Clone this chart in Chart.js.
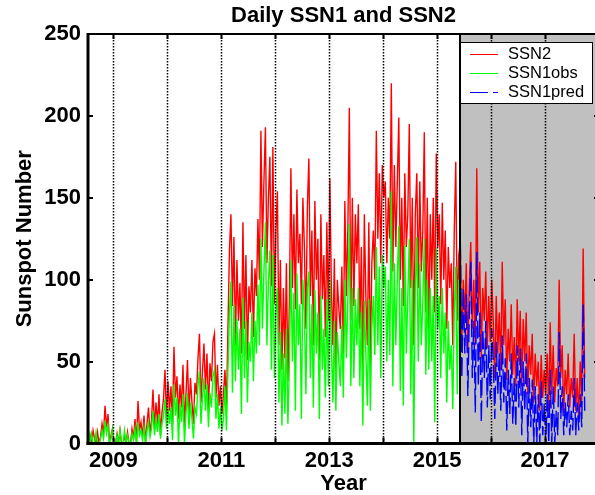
<!DOCTYPE html>
<html>
<head>
<meta charset="utf-8">
<script src="https://cdn.jsdelivr.net/npm/chart.js@4.4.1/dist/chart.umd.min.js"></script>
<style>
  html, body { margin: 0; padding: 0; background: #fff; overflow: hidden; }
  #marco { width: 595px; height: 495px; overflow: hidden; }
</style>
</head>
<body>
<div id="marco"><canvas id="grafico" width="610" height="495" style="width:610px;height:495px"></canvas></div>
<script>
// ============================================================================
// Daily SSN1 and SSN2 — series, una muestra cada ~10 días
// ============================================================================

const TITULO = "Daily SSN1 and SSN2";
const INICIO = 2008.54;        // año de la primera muestra
const PASO = 1 / 36;           // separación entre muestras (años)
const INICIO_PRED = 2015.43;   // comienza SSN1pred
const INICIO_GRIS = 2015.43;   // comienza la zona sombreada
const X_MIN = 2008.53;
const X_MAX = 2018;

const ANIOS_GRILLA = [2009, 2010, 2011, 2012, 2013, 2014, 2015, 2016, 2017];
const ANIOS_ETIQUETA = [2009, 2011, 2013, 2015, 2017];
const MARCAS_Y = [0, 50, 100, 150, 200, 250];

// SSN2 (una fila = medio año)
const ssn2 = [
  0, 5, 0, 8, 3, 0, 7, 0, 4, 12, 6, 23, 10, 18, 0, 5, 9, 0,
  0, 6, 0, 8, 0, 0, 5, 0, 7, 0, 0, 9, 3, 15, 0, 26, 8, 13,
  4, 17, 0, 12, 22, 6, 14, 33, 9, 25, 12, 30, 5, 19, 27, 45, 16, 38,
  20, 35, 12, 59, 28, 41, 15, 36, 22, 48, 10, 30, 51, 18, 40, 25, 12, 37,
  30, 52, 67, 25, 44, 61, 33, 55, 20, 49, 38, 62, 67, 28, 48, 23, 35, 18,
  30, 45, 22, 70, 118, 140, 84, 126, 60, 112, 75, 98, 55, 135, 70, 115, 51, 96,
  80, 112, 65, 107, 90, 137, 100, 191, 120, 160, 193, 110, 150, 175, 96, 181, 85, 130,
  154, 60, 112, 45, 95, 52, 110, 38, 88, 168, 95, 140, 82, 155, 110, 128, 85, 150,
  120, 70, 145, 174, 90, 130, 60, 148, 100, 125, 51, 140, 88, 115, 65, 135, 75, 162,
  95, 60, 113, 45, 100, 82, 70, 108, 55, 148, 90, 131, 205, 75, 150, 84, 140, 110,
  146, 70, 120, 43, 140, 90, 60, 135, 48, 110, 130, 100, 191, 125, 165, 110, 170, 150,
  160, 110, 150, 125, 220, 105, 170, 120, 160, 199, 100, 150, 84, 165, 120, 140, 195, 95,
  150, 60, 140, 165, 95, 160, 105, 130, 190, 80, 150, 66, 140, 100, 150, 80, 177, 120,
  140, 85, 147, 100, 130, 70, 120, 95, 110, 60, 130, 172, 75, 115, 123, 60, 100, 75,
  110, 55, 95, 123, 70, 100, 60, 168, 80, 111, 52, 95, 75, 105, 58, 90, 62, 100,
  75, 40, 90, 55, 80, 45, 111, 60, 88, 39, 70, 50, 85, 42, 65, 35, 88, 50,
  81, 35, 76, 50, 80, 30, 60, 42, 67, 25, 55, 35, 50, 20, 54, 28, 45, 30,
  55, 20, 74, 30, 60, 25, 46, 35, 100, 40, 60, 19, 45, 30, 55, 22, 40, 28,
  67, 20, 40, 15, 50, 25, 119, 40
];

// SSN1 observado
const ssn1obs = [
  8, 0, 6, 0, 0, 7, 0, 0, 3, 8, 3, 14, 6, 11, 0, 3, 9, 0,
  0, 5, 0, 8, 0, 0, 8, 0, 5, 0, 0, 6, 2, 9, 0, 13, 5, 8,
  2, 10, 0, 8, 13, 4, 9, 20, 5, 15, 7, 18, 3, 12, 17, 27, 9, 22,
  12, 22, 2, 36, 17, 28, 0, 24, 13, 30, 0, 18, 31, 9, 25, 15, 3, 22,
  18, 35, 44, 12, 28, 40, 20, 36, 10, 31, 22, 41, 45, 15, 30, 9, 22, 8,
  15, 35, 8, 45, 80, 99, 31, 85, 38, 76, 45, 70, 18, 89, 40, 75, 25, 62,
  50, 80, 38, 75, 55, 97, 60, 125, 70, 105, 135, 60, 98, 118, 45, 115, 40, 80,
  95, 25, 68, 11, 55, 18, 70, 12, 48, 112, 50, 92, 20, 104, 60, 85, 15, 100,
  80, 30, 95, 105, 40, 85, 22, 94, 55, 80, 15, 90, 45, 70, 28, 88, 35, 100,
  60, 25, 75, 20, 68, 50, 35, 72, 28, 100, 52, 88, 134, 35, 95, 40, 88, 60,
  95, 35, 80, 11, 87, 55, 23, 88, 20, 70, 90, 54, 120, 60, 108, 40, 115, 95,
  108, 50, 100, 54, 154, 35, 110, 60, 100, 133, 32, 95, 23, 121, 55, 90, 125, 30,
  100, 0, 95, 126, 50, 110, 60, 85, 125, 42, 100, 45, 95, 50, 90, 13, 119, 70,
  90, 40, 95, 55, 80, 25, 75, 45, 60, 21, 80, 108, 30, 100
];

// SSN1 predicho (zona gris)
const ssn1pred = [
  123, 40, 95, 55,
  91, 29, 80, 111, 40, 75, 19, 117, 35, 80, 13, 70, 40, 75, 22, 60, 27, 70,
  50, 15, 62, 30, 55, 20, 66, 25, 52, 8, 45, 18, 55, 12, 40, 10, 60, 22,
  58, 5, 50, 20, 55, 0, 40, 10, 39, 0, 35, 0, 30, 0, 38, 5, 25, 0,
  30, 0, 45, 0, 35, 0, 20, 5, 68, 15, 35, 5, 25, 10, 30, 5, 20, 8,
  40, 5, 25, 8, 30, 10, 85, 20
];

const FUENTE = "'Liberation Sans', Arial, sans-serif";

function aPuntos(serie, inicio) {
  return serie.map((v, i) => ({ x: inicio + i * PASO, y: v }));
}

function linea(ctx, x1, y1, x2, y2) {
  ctx.beginPath();
  ctx.moveTo(x1, y1);
  ctx.lineTo(x2, y2);
  ctx.stroke();
}

// Zona gris, grilla punteada, ejes, marcas y leyenda
const decoracion = {
  id: "decoracion",
  beforeDatasetsDraw(chart) {
    const { ctx, chartArea: a, scales: { x } } = chart;
    const xg = x.getPixelForValue(INICIO_GRIS);
    ctx.save();
    ctx.fillStyle = "#c0c0c0";
    ctx.fillRect(xg, a.top, a.right - xg, a.bottom - a.top);
    ctx.restore();
  },
  afterDatasetsDraw(chart) {
    const { ctx, chartArea: a, scales: { x, y } } = chart;
    ctx.save();
    ctx.strokeStyle = "#000";

    // grilla vertical punteada
    ctx.lineWidth = 1.5;
    ctx.setLineDash([1.5, 1.5]);
    ANIOS_GRILLA.forEach((an) => {
      const px = Math.round(x.getPixelForValue(an)) + 0.5;
      linea(ctx, px, a.top, px, a.bottom);
    });
    ctx.setLineDash([]);

    // borde de la zona gris
    const xg = Math.round(x.getPixelForValue(INICIO_GRIS));
    ctx.lineWidth = 2;
    linea(ctx, xg, a.top, xg, a.bottom);

    // marcas de los ejes
    ctx.lineWidth = 2;
    ANIOS_GRILLA.forEach((an) => {
      const px = Math.round(x.getPixelForValue(an)) + 0.5;
      linea(ctx, px, a.bottom, px, a.bottom - 6);
      linea(ctx, px, a.top, px, a.top + 5);
    });
    MARCAS_Y.forEach((v) => {
      const py = Math.round(y.getPixelForValue(v));
      linea(ctx, a.left, py, a.left + 5, py);
      linea(ctx, a.right, py, a.right - 5, py);
    });

    // ejes
    ctx.lineWidth = 3;
    linea(ctx, a.left, a.top - 1, a.left, a.bottom + 1.5);
    linea(ctx, a.left - 1.5, a.bottom, a.right + 2, a.bottom);
    ctx.lineWidth = 2;
    linea(ctx, a.left, a.top, a.right, a.top);
    linea(ctx, a.right, a.top, a.right, a.bottom);

    // leyenda
    const bx = xg, by = a.top + 8, bw = 133, bh = 62;
    ctx.fillStyle = "#fff";
    ctx.fillRect(bx, by, bw, bh);
    ctx.lineWidth = 1;
    ctx.strokeRect(bx + 0.5, by + 0.5, bw - 1, bh - 1);
    ctx.font = "16.5px " + FUENTE;
    ctx.textBaseline = "middle";
    const items = [...chart.data.datasets].sort((p, q) => q.order - p.order);
    items.forEach((ds, i) => {
      const ly = by + 12.5 + i * 19;
      ctx.strokeStyle = ds.borderColor;
      ctx.lineWidth = 1;
      ctx.setLineDash(ds.borderDash || []);
      linea(ctx, bx + 10, ly, bx + 38, ly);
      ctx.setLineDash([]);
      ctx.fillStyle = "#000";
      ctx.fillText(ds.label, bx + 48, ly);
    });
    ctx.restore();
  }
};

const fuenteEje = { family: FUENTE, size: 22, weight: "bold", lineHeight: 1 };

new Chart(document.getElementById("grafico"), {
  type: "line",
  data: {
    datasets: [
      { label: "SSN2", data: aPuntos(ssn2, INICIO), borderColor: "#ff0000", order: 3 },
      { label: "SSN1obs", data: aPuntos(ssn1obs, INICIO), borderColor: "#00ff00", order: 2 },
      { label: "SSN1pred", data: aPuntos(ssn1pred, INICIO_PRED), borderColor: "#0000ff", borderDash: [18, 5], order: 1 }
    ]
  },
  options: {
    responsive: false,
    animation: false,
    events: [],
    parsing: false,
    elements: {
      point: { radius: 0 },
      line: { borderWidth: 1.4, tension: 0, fill: false }
    },
    layout: { padding: { left: 6, right: 11, top: 5, bottom: 0 } },
    plugins: {
      legend: { display: false },
      tooltip: { enabled: false },
      title: {
        display: true,
        text: TITULO,
        color: "#000",
        fullSize: false,
        font: fuenteEje,
        padding: { top: 0, bottom: 7 }
      }
    },
    scales: {
      x: {
        type: "linear",
        min: X_MIN,
        max: X_MAX,
        grid: { display: false, drawTicks: false },
        border: { display: false },
        afterBuildTicks: (s) => { s.ticks = ANIOS_ETIQUETA.map((v) => ({ value: v })); },
        ticks: { autoSkip: false, maxRotation: 0, padding: 6.5, color: "#000", font: fuenteEje, callback: (v) => String(v) },
        title: { display: true, text: "Year", color: "#000", font: { ...fuenteEje, lineHeight: 0.5 }, padding: { top: 0, bottom: 5.5 } }
      },
      y: {
        min: 0,
        max: 250,
        grid: { display: false, drawTicks: false },
        border: { display: false },
        afterBuildTicks: (s) => { s.ticks = MARCAS_Y.map((v) => ({ value: v })); },
        ticks: { padding: 7, color: "#000", font: fuenteEje, callback: (v) => String(v) },
        title: { display: true, text: "Sunspot Number", color: "#000", font: fuenteEje, padding: { top: 7.5, bottom: 1.8 } }
      }
    }
  },
  plugins: [decoracion]
});
</script>
</body>
</html>
